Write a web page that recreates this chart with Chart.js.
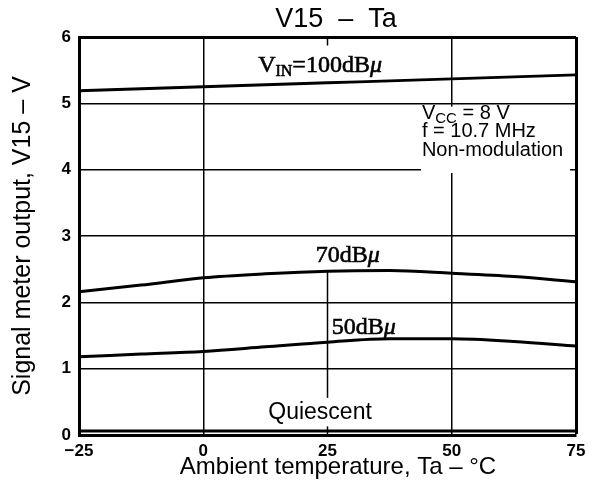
<!DOCTYPE html>
<html><head><meta charset="utf-8">
<script src="https://cdn.jsdelivr.net/npm/chart.js@4/dist/chart.umd.min.js"></script>
<style>html,body{margin:0;padding:0;background:#fff}#wrap{width:593px;height:490px}</style>
</head><body><div id="wrap"><canvas id="c" width="593" height="490"></canvas></div>
<script>
// ---- data ----
const temps = [-25, -12.5, 0, 12.5, 25, 37.5, 50, 62.5, 75];
const v100dB = [5.19, 5.22, 5.25, 5.28, 5.31, 5.34, 5.37, 5.40, 5.43];
const v70dB  = [2.16, 2.26, 2.37, 2.43, 2.47, 2.48, 2.44, 2.39, 2.31];
const v50dB  = [1.18, 1.22, 1.26, 1.33, 1.40, 1.45, 1.45, 1.41, 1.34];
const vQuiescent = [0.06, 0.06, 0.06, 0.06, 0.06, 0.06, 0.06, 0.06, 0.06];
const xTicks = [-25, 0, 25, 50, 75];
const yTicks = [0, 1, 2, 3, 4, 5, 6];

const titleText = 'V15  \u2013  Ta';
const xTitle = 'Ambient temperature, Ta \u2013 \u00B0C';
const yTitle = 'Signal meter output, V15 \u2013 V';

function pts(ys){ return temps.map((t,i)=>({x:t,y:ys[i]})); }

const SANS = '"Liberation Sans", Arial, sans-serif';
const SERIF = '"Liberation Serif", "Times New Roman", serif';

function drawRuns(ctx, runs, cx, baseline){
  let w = 0;
  runs.forEach(r=>{ ctx.font = r.font; r.w = ctx.measureText(r.t).width; w += r.w; });
  let x = cx - w/2;
  ctx.textAlign = 'left'; ctx.textBaseline = 'alphabetic';
  ctx.lineWidth = 0.6; ctx.strokeStyle = '#000';
  runs.forEach(r=>{ ctx.font = r.font; ctx.fillText(r.t, x, baseline + (r.dy||0));
    ctx.strokeText(r.t, x, baseline + (r.dy||0)); x += r.w; });
}

const textPlugin = {
  id: 'texts',
  beforeDatasetsDraw(chart){
    const {ctx, scales:{x, y}} = chart;
    ctx.save();
    ctx.strokeStyle = '#000'; ctx.lineWidth = 1.5;
    ctx.beginPath();
    ctx.moveTo(x.getPixelForValue(25), y.getPixelForValue(0));
    ctx.lineTo(x.getPixelForValue(25), y.getPixelForValue(2.47));
    ctx.moveTo(x.getPixelForValue(25), y.getPixelForValue(6));
    ctx.lineTo(x.getPixelForValue(25), y.getPixelForValue(5.87));
    ctx.stroke();
    ctx.fillStyle = '#fff';
    const bx0 = x.getPixelForValue(43.8), bx1 = x.getPixelForValue(73.8);
    const by0 = y.getPixelForValue(4.95), by1 = y.getPixelForValue(3.95);
    ctx.fillRect(bx0, by0, bx1-bx0, by1-by0);
    const qx0 = x.getPixelForValue(12), qx1 = x.getPixelForValue(35);
    const qy0 = y.getPixelForValue(0.56), qy1 = y.getPixelForValue(0.13);
    ctx.fillRect(qx0, qy0, qx1-qx0, qy1-qy0);
    ctx.restore();
  },
  afterDraw(chart){
    const {ctx, scales:{x, y}} = chart;
    ctx.save();
    ctx.fillStyle = '#000';
    ctx.font = '27px ' + SANS; ctx.textAlign='center'; ctx.textBaseline='alphabetic';
    ctx.fillText(titleText, 336, 27);
    ctx.font = '24px ' + SANS;
    ctx.fillText(xTitle, 338, 474);
    ctx.save(); ctx.translate(30, 236); ctx.rotate(-Math.PI/2);
    ctx.font = '25px ' + SANS; ctx.textAlign='center';
    ctx.fillText(yTitle, 0, 0);
    ctx.restore();
    const serif = '24px ' + SERIF, serifSub = '16px ' + SERIF, mu = 'italic 24px ' + SERIF;
    drawRuns(ctx, [{t:'V',font:serif},{t:'IN',font:serifSub,dy:4},{t:'=100dB',font:serif},{t:'\u03BC',font:mu}],
      x.getPixelForValue(23.5), y.getPixelForValue(5.47));
    drawRuns(ctx, [{t:'70dB',font:serif},{t:'\u03BC',font:mu}], x.getPixelForValue(29.1), y.getPixelForValue(2.61));
    drawRuns(ctx, [{t:'50dB',font:serif},{t:'\u03BC',font:mu}], x.getPixelForValue(32.3), y.getPixelForValue(1.52));
    ctx.font = '23px ' + SANS; ctx.textAlign='center';
    ctx.fillText('Quiescent', x.getPixelForValue(23.5), y.getPixelForValue(0.24));
    const lx = x.getPixelForValue(44.0);
    ctx.textAlign='left';
    ctx.font = '20px ' + SANS; ctx.fillText('V', lx, y.getPixelForValue(4.77));
    let w = ctx.measureText('V').width;
    ctx.font = '15px ' + SANS; ctx.fillText('CC', lx + w, y.getPixelForValue(4.77) + 4);
    w += ctx.measureText('CC').width;
    ctx.font = '20px ' + SANS; ctx.fillText(' = 8 V', lx + w, y.getPixelForValue(4.77));
    ctx.fillText('f = 10.7 MHz', lx, y.getPixelForValue(4.50));
    ctx.fillText('Non-modulation', lx, y.getPixelForValue(4.21));
    ctx.restore();
  }
};

const ds = (label, data, w) => ({label, data: pts(data), borderColor:'#000', borderWidth:w,
  pointRadius:0, fill:false, tension:0.4, cubicInterpolationMode:'monotone'});

new Chart(document.getElementById('c'), {
  type: 'line',
  data: { datasets: [
    ds('100dB', v100dB, 2.8), ds('70dB', v70dB, 3), ds('50dB', v50dB, 3), ds('Quiescent', vQuiescent, 3)
  ]},
  options: {
    responsive:false, animation:false, devicePixelRatio:1,
    layout:{padding:{top:37, right:17, left:0, bottom:0}},
    plugins:{legend:{display:false}, tooltip:{enabled:false}, title:{display:false}},
    scales:{
      x:{ type:'linear', min:-25, max:75,
        afterFit(s){ s.height = 55; },
        afterBuildTicks(s){ s.ticks = xTicks.map(v=>({value:v})); },
        ticks:{ color:'#000', font:{family:SANS, size:17, weight:'bold'}, padding:6,
          callback:v=> v<0 ? '\u2212'+Math.abs(v) : String(v), maxRotation:0 },
        grid:{ color:(c)=> c.tick && c.tick.value===25 ? 'rgba(0,0,0,0)' : '#000',
          lineWidth:(c)=> c.tick && c.tick.value===75 ? 3 : 1.5, drawTicks:false },
        border:{ display:true, color:'#000', width:3 }
      },
      y:{ type:'linear', min:0, max:6,
        afterFit(s){ s.width = 79; },
        afterBuildTicks(s){ s.ticks = yTicks.map(v=>({value:v})); },
        ticks:{ color:'#000', font:{family:SANS, size:17, weight:'bold'}, padding:8 },
        grid:{ color:'#000', lineWidth:(c)=> c.tick && c.tick.value===6 ? 3 : 1.5, drawTicks:false },
        border:{ display:true, color:'#000', width:3 }
      }
    }
  },
  plugins:[textPlugin]
});
</script></body></html>
